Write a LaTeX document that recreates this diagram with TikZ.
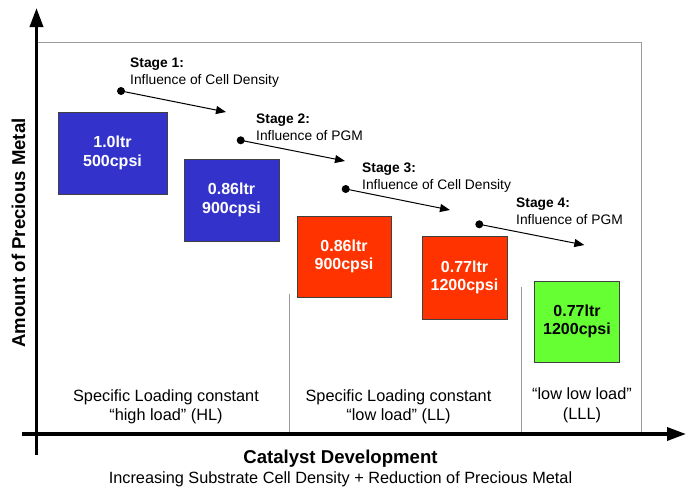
\documentclass[tikz,border=0pt]{standalone}
\usepackage{fontspec}
\setmainfont{Liberation Sans}
\usetikzlibrary{arrows.meta}
\definecolor{boxblue}{HTML}{3333CC}
\definecolor{boxred}{HTML}{FF3300}
\definecolor{boxgreen}{HTML}{66FF33}
\definecolor{framegray}{HTML}{9A9A9A}

\begin{document}
\begin{tikzpicture}[x=1pt,y=-1pt,
  catbox/.style={draw=black!75, line width=0.8pt, align=center, inner sep=0pt,
    font=\fontsize{16}{18.5}\selectfont\bfseries},
  axislabel/.style={font=\fontsize{18.6}{20}\selectfont\bfseries, inner sep=0pt, anchor=base},
  zonelabel/.style={font=\fontsize{16.3}{19}\selectfont, inner sep=0pt, anchor=base},
  stagetitle/.style={font=\fontsize{13.8}{16}\selectfont\bfseries, inner sep=0pt, anchor=base west},
  stagetext/.style={font=\fontsize{13.8}{16}\selectfont, inner sep=0pt, anchor=base west},
  stagedot/.style={circle, fill=black, inner sep=0pt, minimum size=8pt},
  stagearrow/.style={line width=1pt, -{Triangle[length=10pt,width=8pt]}},
  axisline/.style={line width=3.5pt, -{Triangle[length=19pt,width=13pt]}},
  divider/.style={framegray, line width=0.9pt}
]
\useasboundingbox (0,0) rectangle (686,488);

% plot frame and zone dividers
\draw[framegray, line width=1pt] (37,42) -- (641,42) -- (641,434);
\draw[divider] (289.3,294) -- (289.3,434);
\draw[divider] (521.3,287) -- (521.3,434);

% axes
\coordinate (ybot) at (36.5,455);
\coordinate (ytop) at (36.5,8);
\coordinate (xleft) at (22,434);
\coordinate (xright) at (686,434);
\draw[axisline] (ybot) -- (ytop);
\draw[axisline] (xleft) -- (xright);

% axis titles
\node[axislabel, rotate=90] (ylab) at (25,233) {Amount of Precious Metal};
\node[axislabel] (xlab) at (340.5,463) {Catalyst Development};
\node[zonelabel] (xsub) at (340.5,483) {Increasing Substrate Cell Density + Reduction of Precious Metal};

% catalyst boxes
\node[catbox, fill=boxblue, text=white, minimum width=109pt, minimum height=82pt] (b1) at (112.5,153) {1.0ltr\\500cpsi};
\node[catbox, fill=boxblue, text=white, minimum width=95pt, minimum height=82pt] (b2) at (231.5,200) {0.86ltr\\900cpsi};
\node[catbox, fill=boxred, text=white, minimum width=94pt, minimum height=81pt] (b3) at (344,256.5) {0.86ltr\\900cpsi};
\node[catbox, fill=boxred, text=white, minimum width=85pt, minimum height=83pt] (b4) at (464.5,277.5) {0.77ltr\\1200cpsi};
\node[catbox, fill=boxgreen, text=black, minimum width=85pt, minimum height=81pt] (b5) at (577,321.5) {0.77ltr\\1200cpsi};

% stage annotations
\node[stagetitle] (s1t) at (130,67) {Stage 1:};
\node[stagetext] (s1x) at (130,84) {Influence of Cell Density};
\node[stagetitle] (s2t) at (256,123) {Stage 2:};
\node[stagetext] (s2x) at (256,140) {Influence of PGM};
\node[stagetitle] (s3t) at (362,172) {Stage 3:};
\node[stagetext] (s3x) at (362,189) {Influence of Cell Density};
\node[stagetitle] (s4t) at (516,207) {Stage 4:};
\node[stagetext] (s4x) at (516,224) {Influence of PGM};

\node[stagedot] (d1) at (121,91) {};
\node[stagedot] (d2) at (240.7,140.3) {};
\node[stagedot] (d3) at (345.7,189) {};
\node[stagedot] (d4) at (479.3,224.3) {};
\coordinate (e1) at (226,112);
\coordinate (e2) at (345,161);
\coordinate (e3) at (450,210);
\coordinate (e4) at (584.3,245);
\draw[stagearrow] (d1.center) -- (e1);
\draw[stagearrow] (d2.center) -- (e2);
\draw[stagearrow] (d3.center) -- (e3);
\draw[stagearrow] (d4.center) -- (e4);

% zone labels
\node[zonelabel] (z1a) at (166,401) {Specific Loading constant};
\node[zonelabel] (z1b) at (166,420) {“high load” (HL)};
\node[zonelabel] (z2a) at (398.5,401) {Specific Loading constant};
\node[zonelabel] (z2b) at (398.5,420) {“low load” (LL)};
\node[zonelabel] (z3a) at (582,399) {“low low load”};
\node[zonelabel] (z3b) at (582,419) {(LLL)};
\end{tikzpicture}
\end{document}
